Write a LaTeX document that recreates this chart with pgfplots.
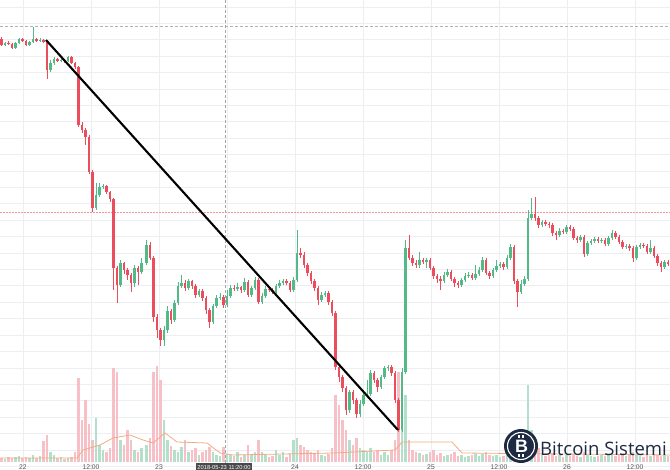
\documentclass[border=0pt]{standalone}
\usepackage{pgfplots}
\pgfplotsset{compat=1.18}
\usepackage{pgfplotstable}
\usepackage{fontspec}
\setmainfont{Liberation Sans}
\newfontfamily\wmfont{Open Sans}
\definecolor{up}{HTML}{53B987}
\definecolor{dn}{HTML}{EB4D5C}
\definecolor{upv}{HTML}{B4E0CB}
\definecolor{dnv}{HTML}{F7C0C6}
\definecolor{gridc}{HTML}{EDEEF1}
\definecolor{navy}{HTML}{1E2A42}
\definecolor{ma}{HTML}{F0AC80}
\definecolor{lblbg}{HTML}{4A4A4A}
\definecolor{tickc}{HTML}{555555}

% pixel-based values (y grows downwards): x o c h l v
\pgfplotstableread{
x o c h l v
1.5 39 45 37 46 458
8.5 43 44 41 45 457
12 44 48 43 49 458
22.5 39 41 38 42 458
26 41 45 40 46 457
36.5 39 41 38 42 458
43.5 40 42 39 43 441
47 42 70 41 79 435
57.5 59 61 58 62 458
64.5 60 61 59 63 459
71.5 57 63 56 64 457
75 63 67 62 69 452
78.5 67 125 66 127 378
82 125 130 122 133 420
85.5 130 137 128 145 400
89 137 172 135 174 424
92.5 172 208 170 212 440
106.5 186 192 185 194 452
110 192 199 191 202 448
113.5 199 268 198 290 368
117 268 285 266 303 372
124 263 270 262 274 445
127.5 270 275 268 280 430
131 275 283 273 292 440
138 268 272 266 285 452
150 245 258 242 260 438
153.5 258 317 256 322 372
157 317 330 314 338 366
160.5 330 340 328 346 380
171 311 320 309 324 446
185 283 288 280 291 440
192 281 286 280 289 450
195.5 286 295 284 298 448
202.5 291 298 289 301 452
206 298 310 296 314 450
209.5 310 322 308 328 447
223.5 297 305 295 308 447
234 288 289 285 291 456
241 287 290 286 293 457
248 282 295 280 297 445
258.5 280 302 278 304 440
269 289 290 287 292 457
272.5 290 292 288 294 456
286.5 281 283 279 285 457
290 283 290 281 292 454
300.5 253 255 248 258 445
304 255 265 252 268 447
307.5 265 273 263 276 450
311 273 281 271 284 452
314.5 281 288 279 291 453
318 288 300 286 305 450
328.5 293 302 291 305 454
332 302 313 300 316 448
335.5 313 367 311 370 395
339 367 377 365 382 405
342.5 377 388 375 392 420
346 388 410 386 415 430
353 392 400 390 404 445
356.5 400 414 398 418 438
374 373 380 371 383 452
377.5 380 387 378 392 450
391.5 367 373 365 376 450
395 373 400 371 403 440
398.5 400 430 398 432 372
409 248 258 235 260 440
412.5 258 263 255 266 450
416 263 265 260 268 452
423 260 262 258 264 455
430 260 268 258 270 452
433.5 268 276 266 279 450
437 276 279 274 283 455
440.5 279 281 276 290 453
451 272 279 270 281 454
454.5 279 283 277 287 452
458 283 285 281 288 456
472 275 278 273 280 455
486 260 273 258 275 452
489.5 273 276 271 279 455
503.5 264 267 262 270 456
514 247 281 245 284 440
517.5 281 292 279 307 445
535 214 218 197 221 440
538.5 218 225 216 228 448
545.5 222 224 220 226 456
549 224 225 222 228 455
552.5 225 233 223 236 453
556 233 235 231 240 456
563 231 232 229 234 457
570 227 229 225 231 456
573.5 229 238 227 240 454
577 238 240 236 243 456
584 237 254 235 257 452
598 239 241 237 243 456
605 240 244 238 246 456
615.5 233 237 231 239 456
619 237 242 235 244 455
622.5 242 247 240 249 453
629.5 246 248 244 251 455
633 248 258 246 262 452
643.5 245 246 243 248 457
647 246 252 244 254 455
654 248 256 246 258 454
657.5 256 263 254 266 455
661 263 267 261 272 456
668 262 264 260 266 456
}\dntab

\pgfplotstableread{
x o c h l v
5 45 43 42 46 459
15.5 48 43 42 49 457
19 43 39 38 44 456
29.5 45 42 41 46 458
33 42 39 27 43 455
40 41 40 38 42 456
50.5 70 63 60 72 452
54 63 59 57 65 455
61 61 60 58 62 457
68 61 57 56 62 458
96 208 195 183 210 418
99.5 195 187 183 197 445
103 187 186 184 189 450
120.5 285 263 260 287 440
134.5 283 268 265 287 450
141.5 272 263 258 274 448
146.5 263 245 240 265 445
164 340 330 326 346 420
167.5 330 311 306 333 440
174.5 320 303 300 322 450
178 303 286 282 305 452
181.5 286 283 275 288 447
188.5 288 281 279 290 452
199 295 291 289 297 455
213 322 306 304 324 452
216.5 306 298 295 308 455
220 298 297 293 300 456
227 305 296 290 307 454
230.5 296 288 285 298 455
237.5 289 287 283 291 452
244.5 290 282 278 292 455
251.5 295 288 286 297 455
255 288 280 277 290 452
262 302 296 293 304 452
265.5 296 289 286 298 455
276 292 286 284 294 450
279.5 286 283 280 288 455
283 283 281 279 285 452
293.5 290 280 277 292 440
297 280 253 230 282 438
321.5 300 295 292 302 455
325 295 293 291 297 456
349.5 410 392 390 413 440
360 414 404 400 417 448
363.5 404 395 393 406 450
367 395 394 380 398 452
370.5 394 373 370 396 448
381 387 377 375 389 455
384.5 377 368 366 379 452
388 368 367 365 371 455
402 430 372 368 432 400
405.5 372 248 240 374 395
419.5 265 260 252 268 453
426.5 262 260 258 268 454
444 281 275 272 283 456
447.5 275 272 269 277 455
461.5 285 280 278 287 455
465 280 276 273 282 457
468.5 276 275 272 278 456
475.5 278 274 265 280 454
479 274 270 267 276 456
482.5 270 260 257 272 454
493 276 270 268 278 456
496.5 270 266 260 272 455
500 266 264 262 268 457
507 267 258 255 269 455
510.5 258 247 244 260 452
521 292 284 280 294 450
524.5 284 279 276 286 448
528 279 218 210 281 385
531.5 218 214 198 220 430
542 225 222 220 227 455
559.5 235 231 228 237 455
566.5 232 227 225 234 455
580.5 240 237 235 242 457
587.5 254 243 241 256 455
591 243 241 239 245 456
594.5 241 239 237 243 457
601.5 241 240 238 243 455
608.5 244 238 236 246 455
612 238 233 230 240 454
626 247 246 244 249 456
636.5 258 247 245 260 455
640 247 245 243 249 456
650.5 252 248 240 254 456
664.5 267 262 260 269 455
}\uptab

\pgfplotsset{
  bars/.style 2 args={only marks, mark=*, mark size=0pt,
    mark options={draw=none, fill=none, draw opacity=0, fill opacity=0}, forget plot,
    error bars/.cd, y dir=plus, y explicit, error mark=none,
    error bar style={line width=#1, color=#2, draw opacity=1}},
}

\begin{document}
\begin{tikzpicture}
\begin{axis}[
  name=ax,
  width=670bp, height=470bp, scale only axis,
  xmin=0, xmax=670, ymin=0, ymax=470,
  y dir=reverse,
  axis line style={draw=none},
  tick style={draw=none},
  grid=major,
  major grid style={gridc, line width=0.6bp},
  xtick={23,91,159,227,295,363,431,499,567,635},
  xticklabels={22,12:00,23,,24,12:00,25,12:00,26,12:00},
  ytick={7,23.4,...,460},
  yticklabels={},
  xticklabel style={anchor=base, yshift=1bp, font=\fontsize{6.8}{7}\selectfont, text=tickc},
  clip=true,
]
% volume
\addplot[bars={2.6bp}{dnv}]
  table[x=x, y=v, y error plus expr={462-\thisrow{v}}] {\dntab};
\addplot[bars={2.6bp}{upv}]
  table[x=x, y=v, y error plus expr={462-\thisrow{v}}] {\uptab};
% volume moving average
\addplot[ma, line width=0.8bp, forget plot] coordinates {
 (0,458) (40,458) (77,458) (83,450) (100,445) (113,438) (130,435) (143,440)
 (153,443) (165,433) (177,442) (207,443) (220,453) (233,455) (333,453)
 (395,450) (402,442) (452,442) (462,453) (670,455)};
% crosshair and price lines
\draw[gray!60, line width=0.6bp, dash pattern=on 3bp off 2bp] (axis cs:0,26) -- (axis cs:670,26);
\draw[dn!60, line width=0.6bp, dash pattern=on 1.5bp off 1.5bp] (axis cs:0,212) -- (axis cs:670,212);
\draw[gray!70, line width=0.6bp, dash pattern=on 3bp off 2bp] (axis cs:225,0) -- (axis cs:225,470);
% wicks
\addplot[bars={0.7bp}{dn}]
  table[x=x, y=h, y error plus expr={\thisrow{l}-\thisrow{h}}] {\dntab};
\addplot[bars={0.7bp}{up}]
  table[x=x, y=h, y error plus expr={\thisrow{l}-\thisrow{h}}] {\uptab};
% bodies
\addplot[bars={2.7bp}{dn}]
  table[x=x, y expr={min(\thisrow{o},\thisrow{c})}, y error plus expr={max(abs(\thisrow{c}-\thisrow{o}),1.2)}] {\dntab};
\addplot[bars={2.7bp}{up}]
  table[x=x, y expr={min(\thisrow{o},\thisrow{c})}, y error plus expr={max(abs(\thisrow{c}-\thisrow{o}),1.2)}] {\uptab};
% trend line
\addplot[black, line width=2.1bp, forget plot] coordinates {(46,40) (398,430)};
% crosshair time label
\node[fill=lblbg, text=white, font=\fontsize{5.8}{6}\selectfont, inner sep=1.6bp, anchor=base] at (axis cs:224,469) {2018-05-23 11:20:00};
% watermark
\fill[navy] (axis cs:521,446) circle[radius=17bp];
\draw[white, line width=1.1bp] (axis cs:521,446) circle[radius=13.5bp];
\node[text=white, font=\bfseries\fontsize{18}{18}\selectfont] at (axis cs:521.5,446) {B};
\draw[white, line width=1.3bp] (axis cs:519,435) -- (axis cs:519,438) (axis cs:523,435) -- (axis cs:523,438)
  (axis cs:519,454) -- (axis cs:519,457) (axis cs:523,454) -- (axis cs:523,457);
\node[anchor=base west, text=navy, inner sep=0pt, font=\wmfont\fontsize{18.6}{19}\selectfont] at (axis cs:540,455.5) {Bitcoin Sistemi};
\end{axis}
\pgfresetboundingbox
\path[use as bounding box] (ax.south west) rectangle (ax.north east);
\end{tikzpicture}
\end{document}
